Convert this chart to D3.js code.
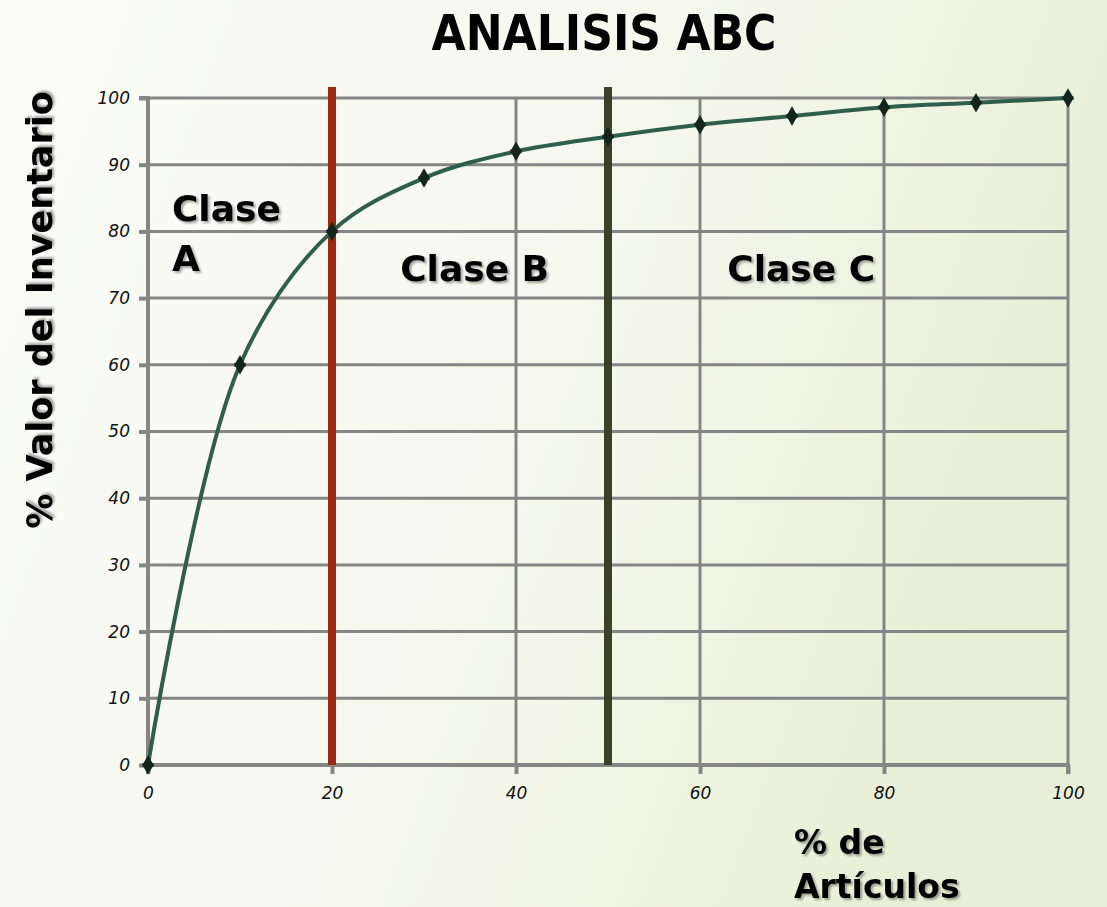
<!DOCTYPE html>
<html>
<head>
<meta charset="utf-8">
<script src="https://cdn.jsdelivr.net/npm/d3@7"></script>
<style>
  html, body { margin: 0; padding: 0; }
  body { width: 1107px; height: 907px; overflow: hidden; }
  svg text { font-family: "DejaVu Sans", sans-serif; }
</style>
</head>
<body>
<svg id="chart" width="1107" height="907"></svg>
<script>
// Cumulative ABC curve: % of items vs % of inventory value
const articulos = [0, 10, 20, 30, 40, 50, 60, 70, 80, 90, 100];
const valor     = [0, 60, 80, 88, 92, 94.2, 96, 97.3, 98.6, 99.3, 100];
const xTicks = [0, 20, 40, 60, 80, 100];
const yTicks = [0, 10, 20, 30, 40, 50, 60, 70, 80, 90, 100];
const limiteA = 20;
const limiteB = 50;
const clases = [
  { lineas: ["Clase", "A"], x: 2.6, y: 81.5, anchor: "start" },
  { lineas: ["Clase B"], x: 35.5, y: 72.5, anchor: "middle" },
  { lineas: ["Clase C"], x: 71, y: 72.5, anchor: "middle" }
];

const svg = d3.select("#chart");
const W = 1107, H = 907;

// background wash
const defs = svg.append("defs");
const bg = defs.append("linearGradient").attr("id", "bg")
  .attr("x1", "0").attr("y1", "0").attr("x2", "1").attr("y2", "0.3");
bg.append("stop").attr("offset", "0").attr("stop-color", "#fbfcf8");
bg.append("stop").attr("offset", "0.55").attr("stop-color", "#f6f8ee");
bg.append("stop").attr("offset", "1").attr("stop-color", "#e9efd6");
svg.append("rect").attr("width", W).attr("height", H).attr("fill", "url(#bg)");

const shadow = defs.append("filter").attr("id", "shadow")
  .attr("x", "-10%").attr("y", "-20%").attr("width", "130%").attr("height", "150%");
shadow.append("feDropShadow").attr("dx", 2).attr("dy", 2).attr("stdDeviation", 1.2)
  .attr("flood-color", "#000").attr("flood-opacity", 0.35);

const x = d3.scaleLinear().domain([0, 100]).range([148, 1068]);
const y = d3.scaleLinear().domain([0, 100]).range([765, 98]);

// title
svg.append("text")
  .attr("x", 604).attr("y", 50)
  .attr("text-anchor", "middle")
  .style("font-family", "'Liberation Sans Narrow', 'DejaVu Sans Condensed', sans-serif")
  .style("font-weight", "bold")
  .style("font-size", "49px")
  .attr("fill", "#000")
  .text("ANALISIS ABC");

// grid
const grid = svg.append("g");
grid.selectAll(".gy").data(yTicks.filter(d => d > 0)).join("line")
  .attr("x1", x(0)).attr("x2", x(100))
  .attr("y1", d => y(d)).attr("y2", d => y(d))
  .attr("stroke", "#858585").attr("stroke-width", 3);
grid.selectAll(".gx").data(xTicks.filter(d => d > 0)).join("line")
  .attr("x1", d => x(d)).attr("x2", d => x(d))
  .attr("y1", y(0)).attr("y2", y(100))
  .attr("stroke", "#858585").attr("stroke-width", 3);

// axes
const yAxis = d3.axisLeft(y).tickValues(yTicks).tickSize(9).tickPadding(8);
const xAxis = d3.axisBottom(x).tickValues(xTicks).tickSize(9).tickPadding(8);

const gy = svg.append("g").attr("transform", `translate(${x(0)},0)`).call(yAxis);
const gx = svg.append("g").attr("transform", `translate(0,${y(0)})`).call(xAxis);
[gy, gx].forEach(g => {
  g.select(".domain").attr("stroke", "#858585").attr("stroke-width", 4);
  g.selectAll(".tick line").attr("stroke", "#858585").attr("stroke-width", 4);
  g.selectAll(".tick text")
    .style("font-family", "'DejaVu Sans', sans-serif")
    .style("font-style", "italic")
    .style("font-size", "17px")
    .attr("fill", "#111");
});
gy.select(".domain").attr("d", `M-9,${y(100)}H0V${y(0)}`);
gx.select(".domain").attr("d", `M${x(0)},9V0H${x(100)}V9`);
gx.selectAll(".tick text").attr("dy", "1.0em");
gy.selectAll(".tick text").attr("x", -18);

// class boundaries
svg.append("line")
  .attr("x1", x(limiteA)).attr("x2", x(limiteA))
  .attr("y1", 87).attr("y2", y(0))
  .attr("stroke", "#9b2a12").attr("stroke-width", 8);
svg.append("line")
  .attr("x1", x(limiteB)).attr("x2", x(limiteB))
  .attr("y1", 87).attr("y2", y(0))
  .attr("stroke", "#3b4129").attr("stroke-width", 8);

// curve
const pts = articulos.map((a, i) => [a, valor[i]]);
const line = d3.line()
  .x(d => x(d[0])).y(d => y(d[1]))
  .curve(d3.curveCatmullRom.alpha(0.5));
svg.append("path")
  .datum(pts)
  .attr("d", line)
  .attr("fill", "none")
  .attr("stroke", "#2f5e4c")
  .attr("stroke-width", 4);

// markers
const diamond = d3.symbol().type(d3.symbolDiamond).size(110);
svg.selectAll(".pt").data(pts).join("path")
  .attr("transform", d => `translate(${x(d[0])},${y(d[1])})`)
  .attr("d", diamond)
  .attr("fill", "#13251c");
const cross = d3.symbol().type(d3.symbolCross).size(70);
svg.selectAll(".pt2").data(pts).join("path")
  .attr("transform", d => `translate(${x(d[0])},${y(d[1])})`)
  .attr("d", cross)
  .attr("fill", "#13251c");

// class labels
clases.forEach(c => {
  const t = svg.append("text")
    .attr("x", x(c.x)).attr("y", y(c.y))
    .attr("text-anchor", c.anchor)
    .attr("filter", "url(#shadow)")
    .style("font-family", "'DejaVu Sans', sans-serif")
    .style("font-weight", "bold")
    .style("font-size", "36px")
    .attr("fill", "#000");
  c.lineas.forEach((l, i) => {
    t.append("tspan").attr("x", x(c.x)).attr("dy", i === 0 ? 0 : "1.38em").text(l);
  });
});

// axis titles
svg.append("text")
  .attr("transform", "translate(52,310) rotate(-90)")
  .attr("text-anchor", "middle")
  .attr("filter", "url(#shadow)")
  .style("font-family", "'DejaVu Sans', sans-serif")
  .style("font-weight", "bold")
  .style("font-size", "35px")
  .attr("fill", "#000")
  .text("% Valor del Inventario");

const xt = svg.append("text")
  .attr("x", 794).attr("y", 854)
  .attr("filter", "url(#shadow)")
  .style("font-family", "'DejaVu Sans', sans-serif")
  .style("font-weight", "bold")
  .style("font-size", "33px")
  .attr("fill", "#000");
xt.append("tspan").attr("x", 794).text("% de");
xt.append("tspan").attr("x", 794).attr("dy", 44).text("Artículos");
</script>
</body>
</html>
